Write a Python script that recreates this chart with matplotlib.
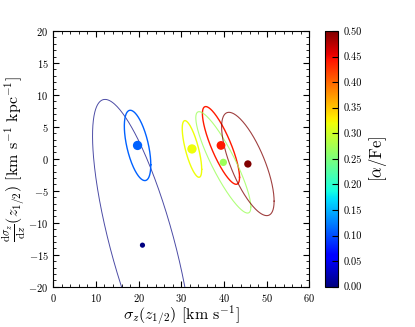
import numpy as np
import matplotlib
matplotlib.use("Agg")
import matplotlib.pyplot as plt
from matplotlib.ticker import MultipleLocator

plt.rcParams['font.family'] = 'serif'
plt.rcParams['font.serif'] = ['cmr10']
plt.rcParams['mathtext.fontset'] = 'cm'
plt.rcParams['axes.formatter.use_mathtext'] = True
plt.rcParams['axes.unicode_minus'] = True

# [alpha/Fe] bins, dispersion at z_1/2 and its vertical gradient
alpha_fe = [0.00, 0.11, 0.32, 0.44, 0.27, 0.50]
sigma_z = [20.9, 19.75, 32.5, 39.3, 39.85, 45.6]
dsigma_dz = [-13.5, 2.1, 1.55, 2.1, -0.55, -0.8]
# error ellipse: half extents and correlation
sigma_err = [11.7, 3.1, 2.28, 4.35, 6.45, 6.15]
dsigma_err = [22.8, 5.5, 4.43, 6.08, 7.93, 8.08]
rho = [-0.75, -0.55, -0.72, -0.82, -0.88, -0.72]

dot_size = [14, 45, 45, 40, 28, 28]
line_w = [0.7, 1.0, 1.0, 1.0, 0.8, 0.8]
line_a = [0.7, 1.0, 1.0, 1.0, 0.8, 0.75]

cmap = plt.cm.jet
norm = plt.Normalize(0.0, 0.5)

fig = plt.figure(figsize=(4.15, 3.27), dpi=100)
ax = fig.add_axes([0.1284, 0.1232, 0.6169, 0.782])
cax = fig.add_axes([0.7831, 0.1232, 0.032, 0.782])

t = np.linspace(0, 2 * np.pi, 300)
for i in range(len(alpha_fe)):
    c = cmap(norm(alpha_fe[i]))
    ex = sigma_z[i] + sigma_err[i] * np.cos(t)
    ey = dsigma_dz[i] + dsigma_err[i] * (rho[i] * np.cos(t) + np.sqrt(1 - rho[i]**2) * np.sin(t))
    ax.plot(ex, ey, '-', color=c, lw=line_w[i], alpha=line_a[i], zorder=2)

sc = ax.scatter(sigma_z, dsigma_dz, c=alpha_fe, cmap=cmap, norm=norm,
                s=dot_size, edgecolors='none', zorder=3)

ax.set_xlim(0, 60)
ax.set_ylim(-20, 20)
ax.xaxis.set_major_locator(MultipleLocator(10))
ax.xaxis.set_minor_locator(MultipleLocator(2))
ax.yaxis.set_major_locator(MultipleLocator(5))
ax.yaxis.set_minor_locator(MultipleLocator(1))
ax.tick_params(which='both', direction='in', top=True, right=True, labelsize=7.5)
ax.tick_params(which='major', length=4, width=0.8)
ax.tick_params(which='minor', length=2, width=0.6)
ax.set_xlabel(r'$\sigma_z(z_{1/2})$ [km s$^{-1}$]', fontsize=11.5, labelpad=0)
ax.set_ylabel(r'$\frac{\mathrm{d}\sigma_z}{\mathrm{d}z}(z_{1/2})$ [km s$^{-1}$ kpc$^{-1}$]',
              fontsize=11.5, labelpad=0)

cb = fig.colorbar(sc, cax=cax, ticks=np.arange(0, 0.501, 0.05))
cb.ax.tick_params(direction='in', labelsize=7.5, length=4, width=0.8)
cb.ax.yaxis.set_major_formatter(matplotlib.ticker.FormatStrFormatter('%.2f'))
cb.set_label(r'$[\alpha/\mathrm{Fe}]$', fontsize=12)

fig.savefig('out.png', dpi=100)
